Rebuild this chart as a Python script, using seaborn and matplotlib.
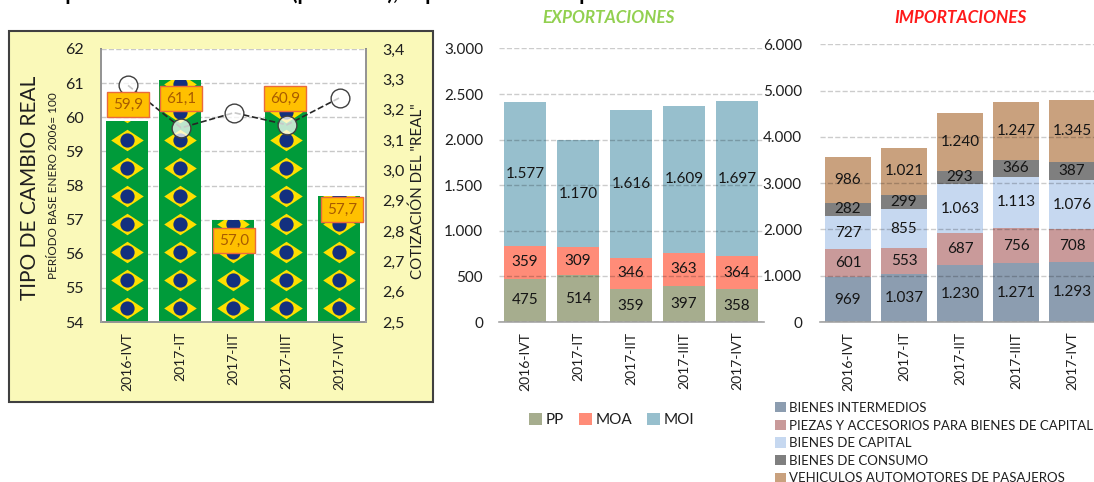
import numpy as np
import seaborn as sns
import matplotlib
matplotlib.use('Agg')
import matplotlib.pyplot as plt
from matplotlib.patches import Rectangle
from matplotlib.path import Path
from matplotlib.ticker import FuncFormatter

periodos = ['2016-IVT', '2017-IT', '2017-IIT', '2017-IIIT', '2017-IVT']

tipo_cambio = [59.9, 61.1, 57.0, 60.9, 57.7]
cotizacion = [3.28, 3.14, 3.19, 3.15, 3.24]

pp = [475, 514, 359, 397, 358]
moa = [359, 309, 346, 363, 364]
moi = [1577, 1170, 1616, 1609, 1697]

intermedios = [969, 1037, 1230, 1271, 1293]
piezas = [601, 553, 687, 756, 708]
capital = [727, 855, 1063, 1113, 1076]
consumo = [282, 299, 293, 366, 387]
vehiculos = [986, 1021, 1240, 1247, 1345]

W, H = 1094, 482

sns.set_theme(style='white')
plt.rcParams['font.family'] = ['Lato', 'DejaVu Sans']
plt.rcParams['text.color'] = '#1f1f1f'
plt.rcParams['xtick.color'] = '#1f1f1f'
plt.rcParams['ytick.color'] = '#1f1f1f'


def box(x0, y0, x1, y1):
    # pixel box of the reference -> figure fractions
    return [x0 / W, 1 - y1 / H, (x1 - x0) / W, (y1 - y0) / H]


def miles(v, pos=None):
    return f'{int(v):,}'.replace(',', '.')


def stacked(ax, series, colors, names, width):
    base = np.zeros(len(periodos))
    for vals, color, name in zip(series, colors, names):
        sns.barplot(x=periodos, y=vals, bottom=base, color=color, saturation=1,
                    width=width, label=name, linewidth=0, ax=ax, legend=False)
        ax.bar_label(ax.containers[-1], labels=[miles(v) for v in vals],
                     label_type='center', fontsize=11, color='#151515')
        base = base + np.array(vals)


def style_axis(ax, pad_y):
    ax.set_axisbelow(False)
    ax.yaxis.grid(True, color='black', alpha=0.2, linestyle='--', linewidth=1)
    ax.xaxis.grid(False)
    ax.yaxis.set_major_formatter(FuncFormatter(miles))
    ax.tick_params(axis='y', length=0, pad=pad_y, labelsize=11)
    ax.tick_params(axis='x', length=0, pad=7, labelsize=10, labelrotation=90)
    for side in ['top', 'left', 'right']:
        ax.spines[side].set_visible(False)
    ax.spines['bottom'].set_color('#a6a6a6')
    ax.spines['bottom'].set_linewidth(1.2)
    ax.set_xlabel('')
    ax.set_ylabel('')


fig = plt.figure(figsize=(W / 100, H / 100), dpi=100)

# titulo general, cortado en el borde superior como en la imagen
fig.text(22 / W, 1 - 0 / H, 'Comparación con Brasil: real (promedio), exportaciones e importaciones',
         fontsize=15, fontweight='bold', color='black', va='baseline')

# TIPO DE CAMBIO REAL
fig.add_artist(Rectangle((9 / W, 1 - 402 / H), 424 / W, 371 / H, transform=fig.transFigure,
                         facecolor='#faf9b9', edgecolor='#404040', linewidth=1.5, zorder=-1))

ax1 = fig.add_axes(box(100.5, 49, 365.5, 322))
sns.barplot(x=periodos, y=tipo_cambio, color='#009b3a', saturation=1, width=0.78, linewidth=0, ax=ax1)
ax1.set_facecolor('white')
ax1.set_axisbelow(True)
ax1.yaxis.grid(True, color='#c8c8c8', linestyle='--', linewidth=1)
ax1.tick_params(axis='y', length=0, pad=12, labelsize=11.5)
ax1.tick_params(axis='x', length=0, pad=7, labelsize=10, labelrotation=90)
ax1.spines['top'].set_visible(False)

# banderas repetidas dentro de cada barra
rombo = Path([(-1, 0), (0, 0.66), (1, 0), (0, -0.66), (-1, 0)], closed=True)
filas = np.arange(54.42, 62, 0.82)
for i, barra in enumerate(ax1.containers[0]):
    xs = np.full(len(filas), i)
    for marker, size, color in [(rombo, 550, '#fedf00'), ('o', 105, '#13307f')]:
        flags = ax1.scatter(xs, filas, marker=marker, s=size, color=color, linewidths=0, zorder=3)
        flags.set_clip_path(barra)
ax1.set_xlim(-0.5, 4.5)
ax1.set_ylim(54, 62)
ax1.set_yticks(np.arange(54, 63))

ax2 = ax1.twinx()
sns.lineplot(x=np.arange(len(periodos)) + 0.02, y=cotizacion, sort=False, ax=ax2, color='#262626',
             linestyle='--', linewidth=1.2, marker='o', markersize=13.5,
             markerfacecolor=(1, 1, 1, 0.75), markeredgecolor='#404040', markeredgewidth=1)
ax1.set_xlim(-0.5, 4.5)
ax2.set_ylim(2.5, 3.4)
ax2.set_yticks(np.arange(2.5, 3.41, 0.1))
ax2.yaxis.set_major_formatter(FuncFormatter(lambda v, pos: f'{v:.1f}'.replace('.', ',')))
ax2.tick_params(axis='y', length=0, pad=12, labelsize=11.5)
ax2.grid(False)
ax2.spines['top'].set_visible(False)
for side in ['left', 'right', 'bottom']:
    ax2.spines[side].set_color('#a6a6a6')
    ax2.spines[side].set_linewidth(1.2)

# etiquetas de valor, desplazadas a mano igual que en el original
desplaza = [(1, 16), (1, -19), (1, -21), (-1, -12), (3, -14)]
for i, (v, (dx, dy)) in enumerate(zip(tipo_cambio, desplaza)):
    ax2.annotate(f'{v:.1f}'.replace('.', ','), xy=(i, v), xycoords=ax1.transData,
                 xytext=(dx * 0.72, dy * 0.72), textcoords='offset points', ha='center', va='center',
                 fontsize=11, color='#a85b00', zorder=6, annotation_clip=False,
                 bbox=dict(boxstyle='square,pad=0.36', facecolor='#ffc000', edgecolor='#ea6a3c', linewidth=1))

fig.text(30 / W, 1 - 188 / H, 'TIPO DE CAMBIO REAL', rotation=90, fontsize=15, ha='center', va='center')
fig.text(54 / W, 1 - 186 / H, 'PERÍODO BASE ENERO 2006= 100', rotation=90, fontsize=8.5, ha='center', va='center')
fig.text(418 / W, 1 - 191 / H, 'COTIZACIÓN DEL "REAL"', rotation=90, fontsize=10.9, ha='center', va='center')

# EXPORTACIONES
ax3 = fig.add_axes(box(498.5, 48.4, 763.5, 322))
stacked(ax3, [pp, moa, moi], ['#a6ad8e', '#ff8c78', '#97bfcd'], ['PP', 'MOA', 'MOI'], 0.8)
ax3.set_ylim(0, 3000)
ax3.set_yticks(np.arange(0, 3001, 500))
style_axis(ax3, 11)
fig.text(609 / W, 1 - 18 / H, 'EXPORTACIONES', fontsize=12.3, fontweight='bold', fontstyle='italic',
         color='#92d050', ha='center', va='center')
ax3.legend(loc='center left', bbox_to_anchor=(529 / W, 1 - 420 / H), bbox_transform=fig.transFigure,
           ncol=3, frameon=False, fontsize=11, handlelength=0.85, handleheight=0.85, handletextpad=0.25,
           columnspacing=0.95, borderpad=0, borderaxespad=0)

# IMPORTACIONES
ax4 = fig.add_axes(box(820, 44.4, 1100, 322))
stacked(ax4, [intermedios, piezas, capital, consumo, vehiculos],
        ['#8c9db0', '#c99a9a', '#c6d8f0', '#7f7f7f', '#c9a17e'],
        ['BIENES INTERMEDIOS', 'PIEZAS Y ACCESORIOS PARA BIENES DE CAPITAL', 'BIENES DE CAPITAL',
         'BIENES DE CONSUMO', 'VEHICULOS AUTOMOTORES DE PASAJEROS'], 0.82)
ax4.set_ylim(0, 6000)
ax4.set_yticks(np.arange(0, 6001, 1000))
style_axis(ax4, 13)
fig.text(961 / W, 1 - 18 / H, 'IMPORTACIONES', fontsize=12.3, fontweight='bold', fontstyle='italic',
         color='#ff1a1a', ha='center', va='center')
ax4.legend(loc='upper left', bbox_to_anchor=(775 / W, 1 - 402 / H), bbox_transform=fig.transFigure,
           ncol=1, frameon=False, fontsize=9.5, handlelength=0.8, handleheight=0.8, handletextpad=0.25,
           labelspacing=0.42, borderpad=0, borderaxespad=0)

fig.savefig('out.png', dpi=100)
